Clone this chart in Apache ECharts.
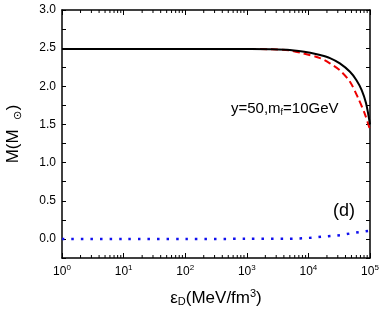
<!DOCTYPE html>
<html><head><meta charset="utf-8">
<script src="https://cdn.jsdelivr.net/npm/echarts@6/dist/echarts.min.js"></script>
<style>html,body{margin:0;padding:0;background:#fff}#c{width:382px;height:314px}</style>
</head><body><div id="c"></div>
<script>
// energy density eps_D (MeV/fm^3) and mass M (M_sun)
const epsBlack = [1, 10, 100, 1000, 2400, 5000, 10700, 15500, 22400, 32400, 47300, 60300, 73300, 86100, 100000];
const massBlack = [2.49, 2.49, 2.49, 2.489, 2.487, 2.477, 2.44, 2.41, 2.37, 2.30, 2.19, 2.08, 1.95, 1.78, 1.50];
const epsRed = [1, 10, 100, 1000, 2400, 5000, 8320, 15500, 22400, 32400, 47300, 64600, 83200, 100000];
const massRed = [2.49, 2.49, 2.49, 2.488, 2.485, 2.47, 2.43, 2.37, 2.30, 2.21, 2.06, 1.84, 1.63, 1.43];
const epsBlue = [1, 10, 100, 1000, 4470, 6030, 8710, 12000, 17400, 25100, 34700, 50100, 69200, 93300, 100000];
const massBlue = [0.0, 0.0, 0.0, 0.001, 0.002, 0.004, 0.01, 0.018, 0.03, 0.04, 0.052, 0.074, 0.09, 0.105, 0.11];
const minorTickValues = [2,3,4,5,6,7,8,9,20,30,40,50,60,70,80,90,200,300,400,500,600,700,800,900,
  2000,3000,4000,5000,6000,7000,8000,9000,20000,30000,40000,50000,60000,70000,80000,90000];
const yMin = -0.25, yMax = 3.0, yStep = 0.25;

const zip = (a, b) => a.map((v, i) => [v, b[i]]);
const chart = echarts.init(document.getElementById('c'), null, {renderer: 'canvas'});
const axisLine = {onZero: false, lineStyle: {color: '#000', width: 1.5}};
const font = 'Arial, "Liberation Sans", sans-serif';
chart.setOption({
  animation: false,
  grid: {left: 62, right: 12, top: 10, bottom: 56, containLabel: false, outerBoundsMode: 'none'},
  xAxis: [{
    type: 'log', logBase: 10, min: 1, max: 100000, position: 'bottom',
    axisLine, splitLine: {show: false},
    axisTick: {inside: true, length: 5, lineStyle: {color: '#000', width: 1}},
    axisLabel: {
      margin: 6, color: '#000', fontFamily: font,
      formatter: v => '{b|10}{s|' + Math.round(Math.log10(v)) + '}',
      rich: {b: {fontSize: 12, fontFamily: font, color: '#000'},
             s: {fontSize: 8, fontFamily: font, color: '#000', padding: [0, 0, 8, 0]}}
    },
    name: '{e|ε}{d|D}{t|(MeV/fm}{s|3}{t|)}', nameLocation: 'middle', nameGap: 30,
    nameTextStyle: {rich: {
      e: {fontSize: 17, fontFamily: font, color: '#000'},
      d: {fontSize: 11, fontFamily: font, color: '#000', padding: [8, 0, 0, 0]},
      t: {fontSize: 17, fontFamily: font, color: '#000'},
      s: {fontSize: 11, fontFamily: font, color: '#000', padding: [0, 0, 9, 0]}
    }}
  }, {
    type: 'log', logBase: 10, min: 1, max: 100000, position: 'top',
    axisLine, splitLine: {show: false},
    axisTick: {inside: true, length: 5, lineStyle: {color: '#000', width: 1}},
    axisLabel: {show: false}
  }],
  yAxis: [{
    type: 'value', min: yMin, max: yMax, interval: yStep, position: 'left',
    axisLine, splitLine: {show: false},
    axisTick: {inside: true, length: 4, lineStyle: {color: '#000', width: 1}},
    axisLabel: {
      color: '#000', fontSize: 12, fontFamily: font, margin: 6,
      formatter: v => Math.abs(v * 2 - Math.round(v * 2)) < 1e-6 ? v.toFixed(1) : ''
    },
    name: '{m|M(M}{o|⊙}{m|)}', nameLocation: 'middle', nameGap: 39, nameRotate: 90,
    nameTextStyle: {rich: {
      m: {fontSize: 17, fontFamily: font, color: '#000'},
      o: {fontSize: 11, fontFamily: font, color: '#000', padding: [9, 1, 0, 9]}
    }}
  }, {
    type: 'value', min: yMin, max: yMax, interval: yStep, position: 'right',
    axisLine, splitLine: {show: false},
    axisTick: {inside: true, length: 4, lineStyle: {color: '#000', width: 1}},
    axisLabel: {show: false}
  }],
  series: [{
    type: 'line', data: zip(epsRed, massRed), smooth: 0.3, showSymbol: false,
    lineStyle: {color: '#ee0000', width: 2, type: [7, 4]}, z: 3
  }, {
    type: 'line', data: zip(epsBlack, massBlack), smooth: 0.3, showSymbol: false,
    lineStyle: {color: '#000', width: 2}, z: 4
  }, {
    type: 'line', data: zip(epsBlue, massBlue), smooth: 0.3, showSymbol: false,
    lineStyle: {color: '#1010ee', width: 2.5, type: [2.5, 7]}, z: 3
  }, {
    type: 'custom', clip: false, z: 5,
    data: minorTickValues.map(v => [v, yMin]),
    renderItem: (params, api) => {
      const b = api.coord([api.value(0), yMin]);
      const t = api.coord([api.value(0), yMax]);
      const st = {stroke: '#000', lineWidth: 1};
      return {type: 'group', children: [
        {type: 'line', shape: {x1: b[0], y1: b[1], x2: b[0], y2: b[1] - 3}, style: st},
        {type: 'line', shape: {x1: t[0], y1: t[1], x2: t[0], y2: t[1] + 3}, style: st}
      ]};
    }
  }],
  graphic: [{
    type: 'text', left: 231, top: 101,
    style: {text: '{a|y=50,m}{f|f}{a|=10GeV}', rich: {
      a: {fontSize: 15, fontFamily: font, fill: '#000'},
      f: {fontSize: 9, fontFamily: font, fill: '#000', padding: [9, 0, 0, 0]}
    }}
  }, {
    type: 'text', left: 333, top: 202,
    style: {text: '(d)', fontSize: 18, fontFamily: font, fill: '#000'}
  }]
});
</script></body></html>
